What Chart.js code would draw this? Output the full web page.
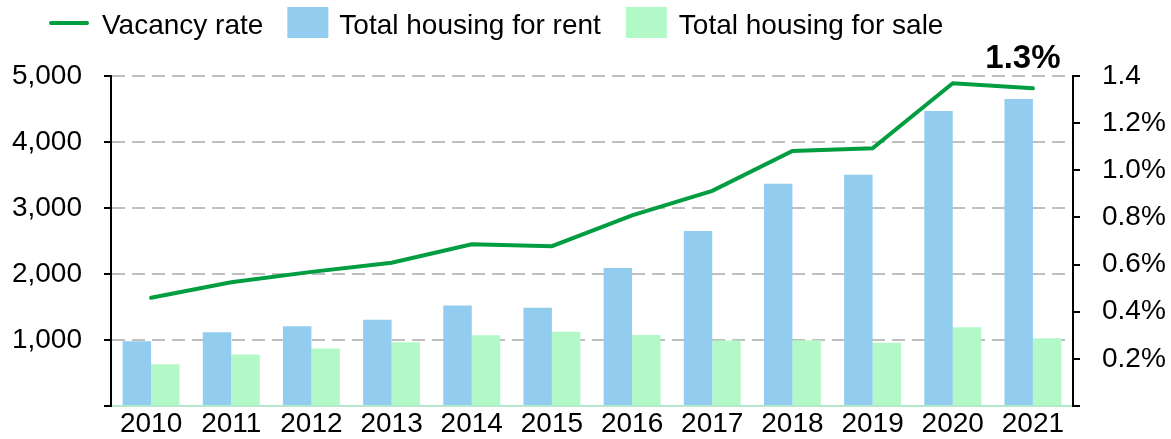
<!DOCTYPE html>
<html>
<head>
<meta charset="utf-8">
<script src="https://cdn.jsdelivr.net/npm/chart.js@4/dist/chart.umd.min.js"></script>
<style>
  html, body { margin: 0; padding: 0; background: #fff; }
  #wrap { width: 1171px; height: 439px; position: relative; }
</style>
</head>
<body>
<div id="wrap"><canvas id="c" width="1171" height="439"></canvas></div>
<script>
const categories = ['2010','2011','2012','2013','2014','2015','2016','2017','2018','2019','2020','2021'];
const rentValues = [980, 1116, 1207, 1307, 1523, 1488, 2092, 2650, 3368, 3502, 4470, 4652];
const saleValues = [633, 780, 870, 965, 1071, 1126, 1076, 991, 995, 958, 1192, 1026];
const vacancyRate = [0.459, 0.525, 0.569, 0.608, 0.686, 0.678, 0.809, 0.913, 1.082, 1.093, 1.369, 1.348];
const leftTicks = [0, 1000, 2000, 3000, 4000, 5000];
const rightTicks = [0, 0.2, 0.4, 0.6, 0.8, 1.0, 1.2, 1.4];
const seriesNames = ['Vacancy rate', 'Total housing for rent', 'Total housing for sale'];

const FONT = "'Liberation Sans', Arial, sans-serif";
const FS = 28;
const GREEN = '#009E40';
const BLUE = '#92CDF0';
const MINT = '#B3F8C7';
const GRID = '#BFBFBF';

const legendPlugin = {
  id: 'customLegend',
  afterDraw(chart) {
    const ctx = chart.ctx;
    ctx.save();
    ctx.font = FS + 'px ' + FONT;
    ctx.fillStyle = '#000';
    ctx.textBaseline = 'alphabetic';
    let x = 49;
    const cy = 23;
    const base = 34;
    ctx.strokeStyle = GREEN;
    ctx.lineWidth = 4;
    ctx.lineCap = 'round';
    ctx.beginPath(); ctx.moveTo(x + 2, cy); ctx.lineTo(x + 38, cy); ctx.stroke();
    x += 40 + 13;
    ctx.fillText(seriesNames[0], x, base);
    x += ctx.measureText(seriesNames[0]).width + 24;
    ctx.fillStyle = BLUE; ctx.fillRect(x, 7, 41, 31);
    x += 41 + 11;
    ctx.fillStyle = '#000';
    ctx.fillText(seriesNames[1], x, base);
    x += ctx.measureText(seriesNames[1]).width + 25;
    ctx.fillStyle = MINT; ctx.fillRect(x, 7, 41, 31);
    x += 41 + 12;
    ctx.fillStyle = '#000';
    ctx.fillText(seriesNames[2], x, base);
    ctx.restore();
  }
};

const lastLabelPlugin = {
  id: 'lastLabel',
  afterDatasetsDraw(chart) {
    const meta = chart.getDatasetMeta(0);
    const pts = meta.data;
    const p = pts[pts.length - 1];
    const v = vacancyRate[vacancyRate.length - 1];
    const ctx = chart.ctx;
    ctx.save();
    ctx.font = 'bold 33px ' + FONT;
    ctx.fillStyle = '#000';
    ctx.textAlign = 'center';
    ctx.textBaseline = 'alphabetic';
    ctx.fillText(v.toFixed(1) + '%', p.x - 10, p.y - 20);
    ctx.restore();
  }
};

new Chart(document.getElementById('c'), {
  data: {
    labels: categories,
    datasets: [
      {
        type: 'line', label: seriesNames[0], data: vacancyRate, yAxisID: 'y1',
        borderColor: GREEN, backgroundColor: GREEN, borderWidth: 4,
        pointRadius: 0, tension: 0, order: 0, borderCapStyle: 'round'
      },
      {
        type: 'bar', label: seriesNames[1], data: rentValues, yAxisID: 'y',
        backgroundColor: BLUE, borderWidth: 0, order: 1,
        categoryPercentage: 0.71, barPercentage: 1.0
      },
      {
        type: 'bar', label: seriesNames[2], data: saleValues, yAxisID: 'y',
        backgroundColor: MINT, borderWidth: 0, order: 2,
        categoryPercentage: 0.71, barPercentage: 1.0
      }
    ]
  },
  options: {
    responsive: false,
    animation: false,
    devicePixelRatio: 1,
    layout: { padding: { top: 76, left: 0, right: 0, bottom: 0 } },
    plugins: { legend: { display: false }, tooltip: { enabled: false } },
    scales: {
      x: {
        position: 'bottom',
        grid: { display: false, drawTicks: false },
        border: { display: true, color: '#B3E8CA', width: 2 },
        ticks: { color: '#000', font: { family: FONT, size: FS }, padding: 1, maxRotation: 0, autoSkip: false },
        afterFit(s) { s.height = 33; s.paddingTop = 0; s.paddingBottom = 0; }
      },
      y: {
        position: 'left', min: 0, max: 5000,
        afterBuildTicks(s) { s.ticks = leftTicks.map(v => ({ value: v })); },
        afterFit(s) { s.width = 111; s.paddingTop = 0; s.paddingBottom = 0; },
        grid: {
          color: c => (c.tick && c.tick.value === 0) ? 'rgba(0,0,0,0)' : GRID,
          lineWidth: 2, tickLength: 7, tickColor: '#000', tickWidth: 2, tickBorderDash: []
        },
        border: { display: true, color: '#000', width: 2, dash: [13, 7] },
        ticks: {
          color: '#000', font: { family: FONT, size: FS }, padding: 22,
          callback: v => v === 0 ? '' : v.toLocaleString('en-US')
        }
      },
      y1: {
        position: 'right', min: 0, max: 1.4,
        afterBuildTicks(s) { s.ticks = rightTicks.map(v => ({ value: v })); },
        afterFit(s) { s.width = 98; s.paddingTop = 0; s.paddingBottom = 0; },
        grid: { drawOnChartArea: false, tickLength: 7, tickColor: '#000', tickWidth: 2, lineWidth: 2 },
        border: { display: true, color: '#000', width: 2 },
        ticks: {
          color: '#000', font: { family: FONT, size: FS }, padding: 22,
          callback: v => v === 0 ? '' : (Math.abs(v - 1.4) < 1e-9 ? '1.4' : v.toFixed(1) + '%')
        }
      }
    }
  },
  plugins: [legendPlugin, lastLabelPlugin]
});
</script>
</body>
</html>
